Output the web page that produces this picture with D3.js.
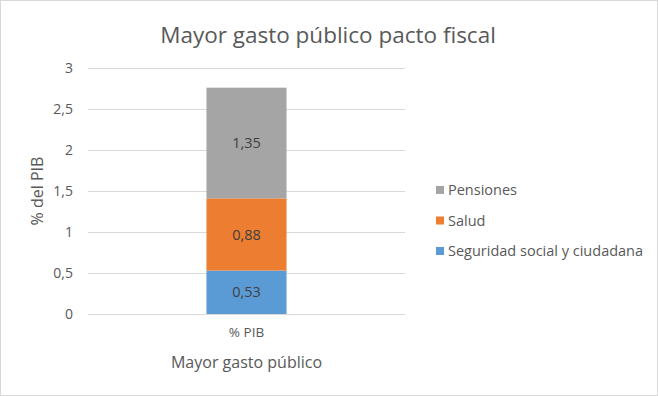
<!DOCTYPE html>
<meta charset="utf-8">
<style>
body { margin: 0; background: #fff; }
svg { font-family: "Open Sans", "Noto Sans", sans-serif; }
.grid line { stroke: #d9d9d9; stroke-width: 1px; }
.axis text { fill: #595959; font-size: 14px; }
.lbl { fill: #404040; font-size: 14.5px; }
</style>
<svg width="658" height="396"></svg>
<script src="https://cdn.jsdelivr.net/npm/d3@7"></script>
<script>

// data
var categories = ["% PIB"];
var seriesNames = ["Seguridad social y ciudadana", "Salud", "Pensiones"];
var seguridad = [0.53];
var salud = [0.88];
var pensiones = [1.35];
var colors = ["#5b9bd5", "#ed7d31", "#a5a5a5"];
var yTicks = [0, 0.5, 1, 1.5, 2, 2.5, 3];

var svg = d3.select("svg");

// outer border
svg.append("rect")
    .attr("x", 0.5).attr("y", 0.5)
    .attr("width", 657).attr("height", 395)
    .attr("fill", "#fff")
    .attr("stroke", "#d9d9d9");

var x = d3.scaleBand()
    .domain(categories)
    .range([88, 405])
    .paddingInner(0)
    .paddingOuter(1.48);

var y = d3.scaleLinear()
    .domain([0, 3])
    .range([314, 68]);

// gridlines
svg.append("g")
    .attr("class", "grid")
  .selectAll("line")
    .data(yTicks)
  .enter().append("line")
    .attr("x1", 88).attr("x2", 405)
    .attr("y1", function(d) { return Math.round(y(d)) + 0.5; })
    .attr("y2", function(d) { return Math.round(y(d)) + 0.5; });

// y tick labels
var fmt = function(d) { return String(d).replace(".", ","); };
svg.append("g")
    .attr("class", "axis")
  .selectAll("text")
    .data(yTicks)
  .enter().append("text")
    .attr("x", 73)
    .attr("y", function(d) { return y(d); })
    .attr("dy", "0.35em")
    .attr("text-anchor", "end")
    .text(fmt);

// stacked bars
var keys = ["s0", "s1", "s2"];
var rows = categories.map(function(c, i) {
  return { cat: c, s0: seguridad[i], s1: salud[i], s2: pensiones[i] };
});
var layers = d3.stack().keys(keys)(rows);

var g = svg.append("g");
layers.forEach(function(layer, li) {
  g.selectAll(null)
      .data(layer)
    .enter().append("rect")
      .attr("x", function(d) { return x(d.data.cat); })
      .attr("width", x.bandwidth())
      .attr("y", function(d) { return y(d[1]); })
      .attr("height", function(d) { return y(d[0]) - y(d[1]); })
      .attr("fill", colors[li]);

  g.selectAll(null)
      .data(layer)
    .enter().append("text")
      .attr("class", "lbl")
      .attr("x", function(d) { return x(d.data.cat) + x.bandwidth() / 2; })
      .attr("y", function(d) { return y((d[0] + d[1]) / 2); })
      .attr("dy", "0.35em")
      .attr("text-anchor", "middle")
      .text(function(d) { return fmt(d.data[keys[li]]); });
});

// category label
svg.append("g")
    .attr("class", "axis")
  .selectAll("text")
    .data(categories)
  .enter().append("text")
    .attr("x", function(d) { return x(d) + x.bandwidth() / 2; })
    .attr("y", 337)
    .attr("text-anchor", "middle")
    .style("font-size", "13.5px")
    .text(function(d) { return d; });

// axis titles
svg.append("text")
    .attr("x", 246.5).attr("y", 368)
    .attr("text-anchor", "middle")
    .attr("fill", "#595959")
    .style("font-size", "16px")
    .text("Mayor gasto público");

svg.append("text")
    .attr("transform", "translate(43,191) rotate(-90)")
    .attr("text-anchor", "middle")
    .attr("fill", "#595959")
    .style("font-size", "16px")
    .text("% del PIB");

// title
svg.append("text")
    .attr("x", 328).attr("y", 43)
    .attr("text-anchor", "middle")
    .attr("fill", "#595959")
    .style("font-size", "22.5px")
    .text("Mayor gasto público pacto fiscal");

// legend (Pensiones first)
var legendOrder = [2, 1, 0];
var leg = svg.append("g")
  .selectAll("g")
    .data(legendOrder)
  .enter().append("g")
    .attr("transform", function(d, i) { return "translate(436," + (190 + i * 30.5) + ")"; });

leg.append("rect")
    .attr("x", 0).attr("y", -4)
    .attr("width", 8).attr("height", 8)
    .attr("fill", function(d) { return colors[d]; });

leg.append("text")
    .attr("x", 12)
    .attr("dy", "0.35em")
    .attr("fill", "#595959")
    .style("font-size", "14.5px")
    .text(function(d) { return seriesNames[d]; });

</script>
